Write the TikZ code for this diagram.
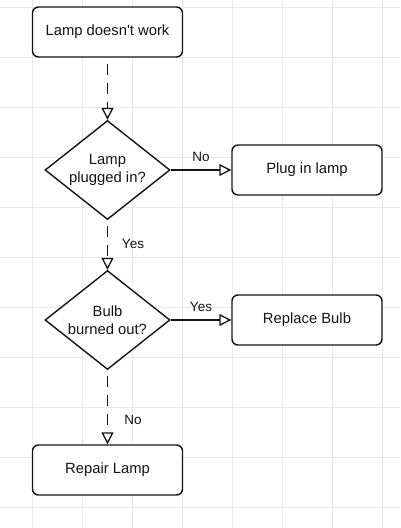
\documentclass[tikz,border=0pt]{standalone}
\usepackage{fontspec}
\setmainfont{Liberation Sans}
\usetikzlibrary{shapes.geometric,arrows.meta}
\definecolor{gridc}{RGB}{232,232,232}
\definecolor{ink}{RGB}{20,20,20}
\begin{document}
\begin{tikzpicture}[x=1pt,y=-1pt,
  every node/.style={text=ink},
  procbox/.style={draw=ink,line width=1.4pt,rounded corners=6pt,fill=white,
    minimum width=150pt,minimum height=50pt,inner sep=0pt,
    font=\fontsize{14.8}{18}\selectfont},
  decbox/.style={draw=ink,line width=1.4pt,diamond,aspect=1.25,fill=white,
    minimum width=125pt,minimum height=99pt,inner sep=0pt,align=center,
    font=\fontsize{14.8}{18}\selectfont},
  conn/.style={draw=ink,line width=1.3pt,-{Triangle[open,length=12pt,width=12pt,line width=1.3pt]}},
  dashconn/.style={conn,dash pattern=on 11pt off 8pt,dash phase=13pt},
  lbl/.style={font=\fontsize{13.5}{15}\selectfont,inner sep=0pt}
]
\useasboundingbox (0,0) rectangle (400,528);
\fill[white] (0,0) rectangle (400,528);
\foreach \gx in {32,82,...,382} \draw[gridc,line width=0.8pt] (\gx,0) -- (\gx,528);
\foreach \gy in {7,57,...,507} \draw[gridc,line width=0.8pt] (0,\gy) -- (400,\gy);

\node[procbox] (start) at (107.5,32) {Lamp doesn\textquotesingle t work};
\node[decbox] (plug) at (107.5,170) {Lamp\\plugged in?};
\node[procbox] (plugin) at (307,170) {Plug in lamp};
\node[decbox] (bulb) at (107.5,320) {Bulb\\burned out?};
\node[procbox] (replace) at (307,320) {Replace Bulb};
\node[procbox] (repair) at (107.5,470) {Repair Lamp};

\draw[dashconn] (start) -- (plug);
\draw[conn] (plug) -- (plugin);
\draw[dashconn] (plug) -- (bulb);
\draw[conn] (bulb) -- (replace);
\draw[dashconn] (bulb) -- (repair);

\node[lbl] (lno1) at (201,157) {No};
\node[lbl] (lyes1) at (133,244) {Yes};
\node[lbl] (lyes2) at (201,307) {Yes};
\node[lbl] (lno2) at (133,420) {No};
\end{tikzpicture}
\end{document}
